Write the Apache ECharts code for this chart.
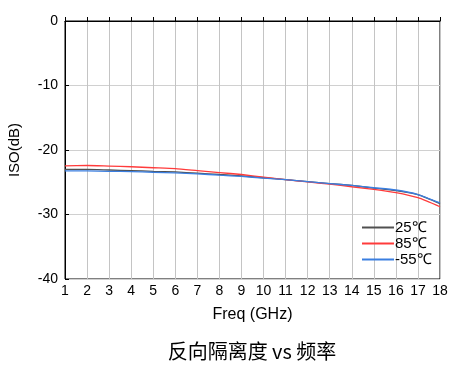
<!DOCTYPE html>
<html><head><meta charset="utf-8">
<script src="https://cdn.jsdelivr.net/npm/echarts@6/dist/echarts.min.js"></script>
<style>html,body{margin:0;padding:0;background:#fff}#c{width:465px;height:369px}</style>
</head><body><div id="c"></div>
<script>
var freqs = [1,2,3,4,5,6,7,8,9,10,11,12,13,14,15,16,17,18];
var iso25 = [-23.0,-23.0,-23.1,-23.2,-23.3,-23.4,-23.6,-23.8,-24.0,-24.3,-24.6,-24.9,-25.2,-25.5,-25.9,-26.3,-26.9,-28.3];
var iso85 = [-22.45,-22.4,-22.5,-22.6,-22.75,-22.9,-23.2,-23.5,-23.8,-24.2,-24.6,-24.95,-25.3,-25.7,-26.1,-26.6,-27.4,-28.8];
var isoM55 = [-23.25,-23.25,-23.3,-23.35,-23.45,-23.55,-23.7,-23.9,-24.1,-24.35,-24.6,-24.9,-25.2,-25.5,-25.85,-26.2,-26.9,-28.2];
var seriesNames = ['25\u2103','85\u2103','-55\u2103'];
var colors = ['#505050','#ff3b3b','#3a7ee0'];
function pairs(v){return freqs.map(function(f,i){return [f,v[i]];});}
var chart = echarts.init(document.getElementById('c'));
var font = 'Liberation Sans, Arial, sans-serif';
chart.setOption({
  animation:false,
  grid:{left:65,right:25,top:21,bottom:90,outerBoundsMode:'none',show:true,borderColor:'#000',borderWidth:1},
  legend:{orient:'vertical',left:357,top:215,itemGap:1,itemWidth:32,itemHeight:2,icon:'rect',
    textStyle:{fontFamily:font,fontSize:15,color:'#000',padding:[0,0,0,-4]},data:seriesNames},
  graphic:[{type:'text',x:252,y:351,style:{text:'反向隔离度 vs 频率',font:'20px "Noto Sans CJK SC", sans-serif',fill:'#000',textAlign:'center',textVerticalAlign:'middle'}}],
  xAxis:{type:'value',min:1,max:18,interval:1,name:'Freq (GHz)',nameLocation:'middle',nameGap:28,
    nameTextStyle:{fontFamily:font,fontSize:16,color:'#000'},
    axisLine:{lineStyle:{color:'#000'}},axisTick:{inside:true,length:4,lineStyle:{color:'#000'}},
    axisLabel:{fontFamily:font,fontSize:14,color:'#000',margin:5},
    splitLine:{show:true,lineStyle:{color:'#c4c4c4',width:1}}},
  yAxis:{type:'value',min:-40,max:0,interval:10,name:'ISO(dB)',nameLocation:'middle',nameGap:43,
    nameTextStyle:{fontFamily:font,fontSize:15,color:'#000'},
    axisLine:{show:true,lineStyle:{color:'#000'}},axisTick:{show:true,inside:true,length:4,lineStyle:{color:'#000'}},
    axisLabel:{fontFamily:font,fontSize:14,color:'#000',margin:7},
    splitLine:{show:true,lineStyle:{color:'#d0d0d0',width:1}}},
  series:[
    {name:seriesNames[0],type:'line',data:pairs(iso25),showSymbol:false,smooth:0.2,lineStyle:{width:1.3,color:colors[0]},itemStyle:{color:colors[0]}},
    {name:seriesNames[1],type:'line',data:pairs(iso85),showSymbol:false,smooth:0.2,lineStyle:{width:1.3,color:colors[1]},itemStyle:{color:colors[1]}},
    {name:seriesNames[2],type:'line',data:pairs(isoM55),showSymbol:false,smooth:0.2,lineStyle:{width:1.3,color:colors[2]},itemStyle:{color:colors[2]}}
  ]
});
</script></body></html>
